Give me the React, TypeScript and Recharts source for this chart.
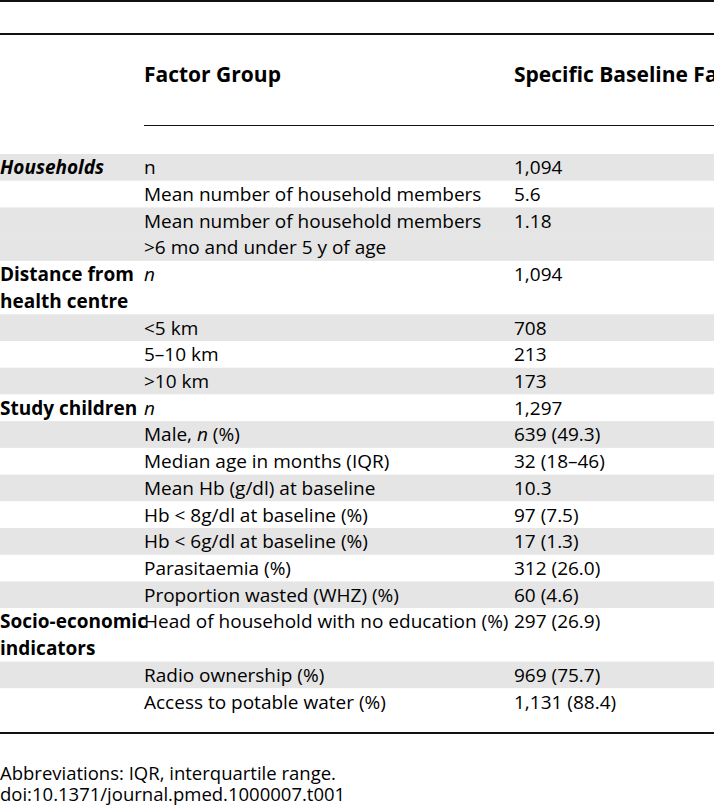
import { BarChart, Bar, XAxis, YAxis } from 'recharts'

// one entry per printed line of the table body
const factorLines = [
  '_Households_', '', '', '', 'Distance from', 'health centre', '', '', '', 'Study children',
  '', '', '', '', '', '', '', 'Socio-economic', 'indicators', '', '',
]
const itemLines = [
  'n', 'Mean number of household members', 'Mean number of household members',
  '>6 mo and under 5 y of age', '_n_', '', '<5 km', '5–10 km', '>10 km', '_n_',
  'Male, _n_ (%)', 'Median age in months (IQR)', 'Mean Hb (g/dl) at baseline',
  'Hb < 8g/dl at baseline (%)', 'Hb < 6g/dl at baseline (%)', 'Parasitaemia (%)',
  'Proportion wasted (WHZ) (%)', 'Head of household with no education (%)', '',
  'Radio ownership (%)', 'Access to potable water (%)',
]
const valueLines = [
  '1,094', '5.6', '1.18', '', '1,094', '', '708', '213', '173', '1,297',
  '639 (49.3)', '32 (18–46)', '10.3', '97 (7.5)', '17 (1.3)', '312 (26.0)',
  '60 (4.6)', '297 (26.9)', '', '969 (75.7)', '1,131 (88.4)',
]
const shaded = [
  true, false, true, true, false, false, true, false, true, false,
  true, false, true, false, true, false, true, false, false, true, false,
]

const headers = ['Factor Group', 'Specific Baseline Factor']
const footnotes = ['Abbreviations: IQR, interquartile range.', 'doi:10.1371/journal.pmed.1000007.t001']

const FONT = '"Open Sans", "Noto Sans", sans-serif'
const GREY = '#e5e5e5'
const COL_X = [0, 144, 514]
const FS = 19

const rows = itemLines.map((item, i) => ({
  line: `L${i}`,
  span: 1,
  factor: factorLines[i],
  item,
  value: valueLines[i],
  shaded: shaded[i],
}))

// text with _italic_ parts
const Rich = ({ text, x, y, bold }: { text: string; x: number; y: number; bold?: boolean }) => {
  if (!text) return null
  const parts = text.split('_')
  return (
    <text x={x} y={y} fontFamily={FONT} fontSize={FS} fontWeight={bold ? 700 : 400} fill="#000">
      {parts.map((p, i) => (
        <tspan key={i} fontStyle={i % 2 ? 'italic' : 'normal'}>{p}</tspan>
      ))}
    </text>
  )
}

// eslint-disable-next-line @typescript-eslint/no-explicit-any
const RowShape = (props: any) => {
  const { x, y, width, height, payload } = props
  const base = y + height * 0.75
  return (
    <g>
      <rect x={x} y={y} width={width} height={height} fill={payload.shaded ? GREY : '#fff'} />
      <Rich text={payload.factor} x={COL_X[0]} y={base} bold />
      <Rich text={payload.item} x={COL_X[1]} y={base} />
      <Rich text={payload.value} x={COL_X[2]} y={base} />
    </g>
  )
}

const rule = (top: number, h: number, left = 0) => (
  <div style={{ position: 'absolute', top, left, right: 0, height: h, background: '#111' }} />
)

export default function App() {
  return (
    <div
      style={{
        position: 'absolute', left: 0, top: 0, width: 714, height: 811,
        overflow: 'hidden', background: '#fff', fontFamily: FONT, color: '#000',
      }}
    >
      {rule(0, 2)}
      {rule(33, 1.5)}
      {headers.map((h, i) => (
        <div
          key={h}
          style={{
            position: 'absolute', top: 64, left: COL_X[i + 1], fontSize: 21,
            lineHeight: '21px', fontWeight: 700, whiteSpace: 'nowrap',
          }}
        >
          {h}
        </div>
      ))}
      {rule(124.5, 1.5, COL_X[1])}
      <div style={{ position: 'absolute', top: 154, left: 0 }}>
        <BarChart
          width={714}
          height={561}
          data={rows}
          layout="vertical"
          margin={{ top: 0, right: 0, bottom: 0, left: 0 }}
          barCategoryGap={0}
        >
          <XAxis type="number" domain={[0, 1]} hide />
          <YAxis type="category" dataKey="line" hide />
          <Bar dataKey="span" shape={RowShape} isAnimationActive={false} />
        </BarChart>
      </div>
      {rule(732, 1.5)}
      {footnotes.map((f, i) => (
        <div
          key={f}
          style={{
            position: 'absolute', top: 764 + i * 21, left: 0, fontSize: 18.5,
            lineHeight: '18.5px', whiteSpace: 'nowrap',
          }}
        >
          {f}
        </div>
      ))}
    </div>
  )
}
